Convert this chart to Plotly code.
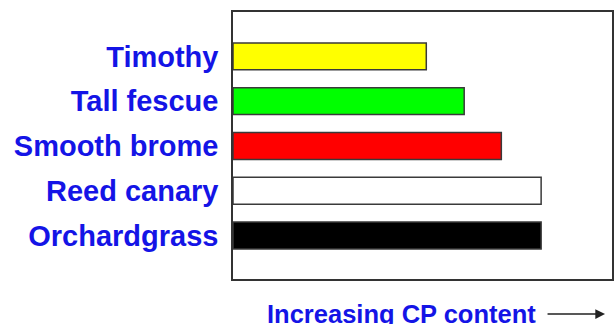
import plotly.graph_objects as go

grasses = ["Timothy", "Tall fescue", "Smooth brome", "Reed canary", "Orchardgrass"]
cp_content = [51.0, 61.0, 70.8, 81.3, 81.3]
bar_colors = ["#FFFF00", "#00FF00", "#FF0000", "#FFFFFF", "#000000"]
axis_label = "Increasing CP content"

blue = "#1414E6"

fig = go.Figure(go.Bar(
    y=grasses, x=cp_content, orientation="h",
    marker=dict(color=bar_colors, line=dict(color="#3a3a3a", width=1.5)),
    width=0.6,
))

fig.update_layout(
    width=615, height=324,
    margin=dict(l=233, r=1, t=12, b=45),
    paper_bgcolor="white", plot_bgcolor="white",
    showlegend=False,
    font=dict(family="Liberation Sans, Arial, sans-serif"),
)
fig.update_xaxes(range=[0, 100], showticklabels=False, showgrid=False, zeroline=False,
                 ticks="", showline=True, linecolor="#333333", linewidth=1.5, mirror=True)
fig.update_yaxes(categoryorder="array", categoryarray=grasses, range=[4.97, -0.99],
                 showgrid=False, zeroline=False, ticks="", ticklabelstandoff=7,
                 showline=True, linecolor="#333333", linewidth=1.5, mirror=True,
                 tickfont=dict(size=29, color=blue, family="Liberation Sans, Arial, sans-serif",
                               weight="bold"))

fig.add_annotation(xref="paper", yref="paper", x=(402 - 233) / 381, y=-(314 - 279) / 267,
                   text="<b>" + axis_label + "</b>", showarrow=False,
                   font=dict(size=25.5, color=blue), xanchor="center", yanchor="middle")
fig.add_annotation(xref="paper", yref="paper", x=(607 - 233) / 381, y=-(314 - 279) / 267,
                   ax=-59, ay=0, text="", showarrow=True, arrowhead=2, arrowsize=1.5,
                   arrowwidth=1.3, arrowcolor="#222222")

fig.write_html("out.html", post_script="document.body.style.margin='0';",
               config={"displayModeBar": False})
